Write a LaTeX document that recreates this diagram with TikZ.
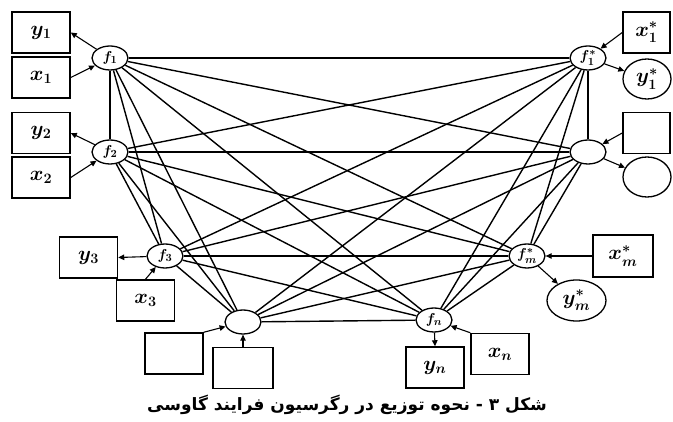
\documentclass[tikz,border=0pt]{standalone}
\usepackage{fontspec}
\usetikzlibrary{shapes.geometric,arrows.meta}
\TeXXeTstate=1
\newfontfamily\arabicfont[Script=Arabic]{DejaVu Sans}
\begin{document}
\begin{tikzpicture}[x=1pt,y=-1pt,
  fnode/.style={ellipse,draw,line width=1.3pt,minimum width=36pt,minimum height=24pt,inner sep=0pt,font=\fontsize{15}{15}\selectfont\boldmath},
  vbox/.style={draw,line width=1.5pt,minimum width=58pt,minimum height=41pt,inner sep=0pt,font=\fontsize{22}{22}\selectfont\boldmath},
  vell/.style={ellipse,draw,line width=1.3pt,minimum width=48pt,minimum height=40pt,inner sep=0pt,font=\fontsize{22}{22}\selectfont\boldmath},
  link/.style={line width=1.4pt},
  arr/.style={line width=1.1pt,-{Triangle[length=6pt,width=5.5pt]}}]
\useasboundingbox (0,0) rectangle (673,422);
% function nodes
\node[fnode] (f1) at (110,58) {$f_1$};
\node[fnode] (f2) at (110,152) {$f_2$};
\node[fnode] (f3) at (165,256) {$f_3$};
\node[fnode] (f4) at (243,322) {};
\node[fnode] (fn) at (434,320) {$f_n$};
\node[fnode] (fm) at (527,256) {$f_m^*$};
\node[fnode] (g2) at (588,152) {};
\node[fnode] (g1) at (588,58) {$f_1^*$};
% variable boxes
\node[vbox] (y1) at (41,32.5) {$y_1$};
\node[vbox] (x1) at (41,77.5) {$x_1$};
\node[vbox] (y2) at (41,133) {$y_2$};
\node[vbox] (x2) at (41,177.5) {$x_2$};
\node[vbox,minimum width=47pt] (x1s) at (646.5,32.5) {$x_1^*$};
\node[vell] (y1s) at (647,79) {$y_1^*$};
\node[vbox,minimum width=47pt] (b2) at (646.5,133) {};
\node[vell] (e2) at (647,177) {};
\node[vbox] (y3) at (88.5,257.5) {$y_3$};
\node[vbox] (x3) at (145.5,300.5) {$x_3$};
\node[vbox] (b4a) at (174,353.5) {};
\node[vbox,minimum width=60pt] (b4b) at (243,368) {};
\node[vbox,minimum width=60pt,minimum height=42pt] (xms) at (623,256) {$x_m^*$};
\node[vell,minimum width=59pt,minimum height=41pt] (yms) at (576.5,300.5) {$y_m^*$};
\node[vbox] (yn) at (435,367.5) {$y_n$};
\node[vbox] (xn) at (500,354) {$x_n$};
% full connections
\foreach \a/\b in {f1/f2,f1/f3,f1/f4,f1/fn,f1/fm,f1/g2,f1/g1,
  f2/f3,f2/f4,f2/fn,f2/fm,f2/g2,f2/g1,
  f3/f4,f3/fn,f3/fm,f3/g2,f3/g1,
  f4/fn,f4/fm,f4/g2,f4/g1,
  fn/fm,fn/g2,fn/g1,
  fm/g2,fm/g1,
  g2/g1}
  \draw[link] (\a) -- (\b);
% input/output arrows
\draw[arr] (f1) -- (y1.east);
\draw[arr] (x1.east) -- (f1);
\draw[arr] (f2) -- (y2.east);
\draw[arr] (x2.east) -- (f2);
\draw[arr] (x1s.west) -- (g1);
\draw[arr] (g1) -- (y1s);
\draw[arr] (b2.west) -- (g2);
\draw[arr] (g2) -- (e2);
\draw[arr] (f3) -- (y3.east);
\draw[arr] (x3.north) -- (f3);
\draw[arr] (b4a.north east) -- (f4);
\draw[arr] (b4b.north) -- (f4);
\draw[arr] (xms.west) -- (fm);
\draw[arr] (fm) -- (yms);
\draw[arr] (fn) -- (yn.north);
\draw[arr] (xn.north west) -- (fn);
% caption
\node[font=\arabicfont\bfseries\fontsize{17}{20}\selectfont] (cap) at (347,405) {\beginR شکل ۳ - نحوه توزیع در رگرسیون فرایند گاوسی\endR};
\end{tikzpicture}
\end{document}
